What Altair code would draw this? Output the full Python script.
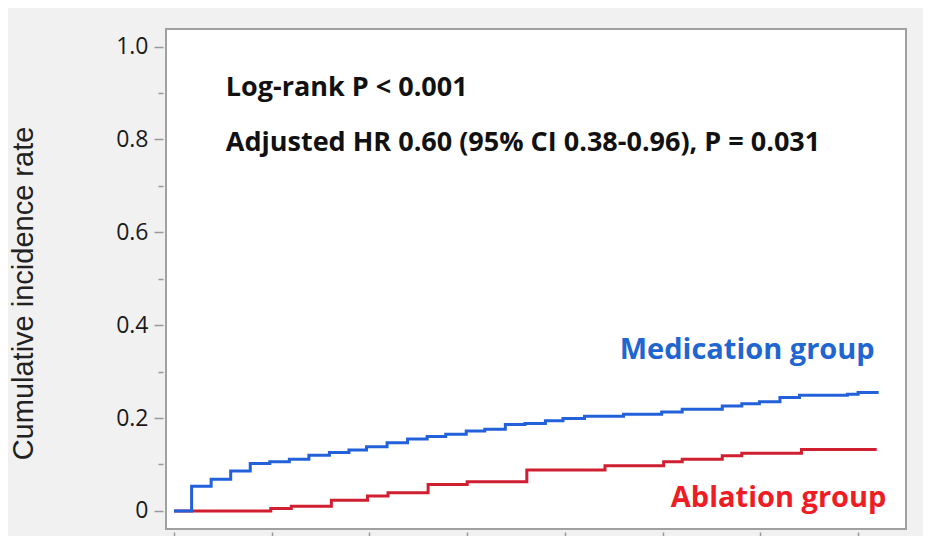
import altair as alt
import pandas as pd

# ---- data ----
blue_t = [0, 0.18, 0.38, 0.58, 0.78, 0.98, 1.18, 1.38, 1.59, 1.79, 1.97, 2.18, 2.39, 2.59, 2.78,
          2.99, 3.18, 3.39, 3.59, 3.80, 3.98, 4.20, 4.60, 4.99, 5.20, 5.61, 5.81, 5.99, 6.20, 6.40,
          6.89, 7.00, 7.21]
blue_v = [0, 0.053, 0.068, 0.086, 0.102, 0.106, 0.111, 0.120, 0.126, 0.131, 0.138, 0.147, 0.155,
          0.160, 0.165, 0.172, 0.176, 0.186, 0.188, 0.194, 0.199, 0.204, 0.208, 0.213, 0.219,
          0.226, 0.231, 0.235, 0.244, 0.249, 0.251, 0.255, 0.255]
red_t = [0, 0.99, 1.20, 1.61, 1.98, 2.19, 2.60, 3.00, 3.61, 4.41, 5.01, 5.20, 5.61, 5.81, 6.42, 7.19]
red_v = [0, 0.005, 0.010, 0.023, 0.032, 0.039, 0.057, 0.063, 0.088, 0.097, 0.106, 0.111, 0.119,
         0.124, 0.132, 0.132]

group_names = ["Medication group", "Ablation group"]
line_colors = ["#2261d9", "#cf1f30"]
label_colors = ["#1f66d1", "#ee1c24"]
group_label_x = [7.17, 7.29]
group_label_y = [0.328, 0.0086]

stats_lines = ["Log-rank P < 0.001", "Adjusted HR 0.60 (95% CI 0.38-0.96), P = 0.031"]
stats_x = [0.53, 0.53]
stats_y = [0.894, 0.775]

y_ticks = [0, 0.1, 0.2, 0.3, 0.4, 0.5, 0.6, 0.7, 0.8, 0.9, 1.0]
x_ticks = [0, 1, 2, 3, 4, 5, 6, 7]
x_domain = [-0.082, 7.49]
y_domain = [-0.039, 1.038]
y_title = "Cumulative incidence rate"

# ---- tables ----
curves = pd.DataFrame({
    "t": red_t + blue_t,
    "rate": red_v + blue_v,
    "group": [group_names[1]] * len(red_t) + [group_names[0]] * len(blue_t),
})
stats = pd.DataFrame({"x": stats_x, "y": stats_y, "text": stats_lines})
glabels = pd.DataFrame({"x": group_label_x, "y": group_label_y, "text": group_names,
                        "group": group_names})

xscale = alt.Scale(domain=x_domain, nice=False, zero=False)
yscale = alt.Scale(domain=y_domain, nice=False, zero=False)

x_axis = alt.Axis(values=x_ticks, labels=False, title=None, domain=False, grid=False,
                  offset=3, tickColor="#999999", tickWidth=1.5,
                  tickSize={"condition": {"test": "datum.value % 2 == 0", "value": 14}, "value": 5})
y_axis = alt.Axis(values=y_ticks, domain=False, grid=False, offset=3,
                  tickColor="#999999", tickWidth=1.5,
                  tickSize={"condition": {"test": "round(datum.value*10) % 2 == 0", "value": 9}, "value": 5},
                  labelExpr="round(datum.value*10) % 2 == 0 ? (datum.value == 0 ? '0' : format(datum.value, '.1f')) : ''",
                  labelFont="Open Sans", labelFontSize=23, labelColor="#1a1a1a", labelPadding=6,
                  title=y_title, titleFont="Liberation Sans", titleFontSize=29,
                  titleFontWeight="normal", titleColor="#222222",
                  titleAngle=-90, titleX=-140, titleY=264, titleAlign="center",
                  titleBaseline="middle")

color_scale = alt.Scale(domain=group_names, range=line_colors)

lines = alt.Chart(curves).mark_line(interpolate="step-after", strokeWidth=3).encode(
    x=alt.X("t:Q", scale=xscale, axis=x_axis),
    y=alt.Y("rate:Q", scale=yscale, axis=y_axis),
    color=alt.Color("group:N", scale=color_scale, legend=None),
    order=alt.Order("t:Q"),
)

stats_text = alt.Chart(stats).mark_text(
    align="left", baseline="alphabetic", font="Open Sans", fontWeight="bold", fontSize=27,
    color="#111111"
).encode(x=alt.X("x:Q", scale=xscale), y=alt.Y("y:Q", scale=yscale), text="text:N")

group_text = alt.Chart(glabels).mark_text(
    align="right", baseline="alphabetic", font="Open Sans", fontWeight="bold", fontSize=29
).encode(
    x=alt.X("x:Q", scale=xscale), y=alt.Y("y:Q", scale=yscale), text="text:N",
    color=alt.Color("group:N", scale=alt.Scale(domain=group_names, range=label_colors), legend=None),
)

chart = alt.layer(lines, stats_text, group_text).resolve_scale(color="independent").properties(
    width=740, height=500,
    autosize=alt.AutoSizeParams(type="none"),
    padding={"left": 158, "top": 21, "right": 17, "bottom": 7},
    background="#f1f1f1",
).configure_view(stroke="#a0a0a0", strokeWidth=2, fill="white")

chart.save("out.html", embed_options={"renderer": "svg", "actions": False})
